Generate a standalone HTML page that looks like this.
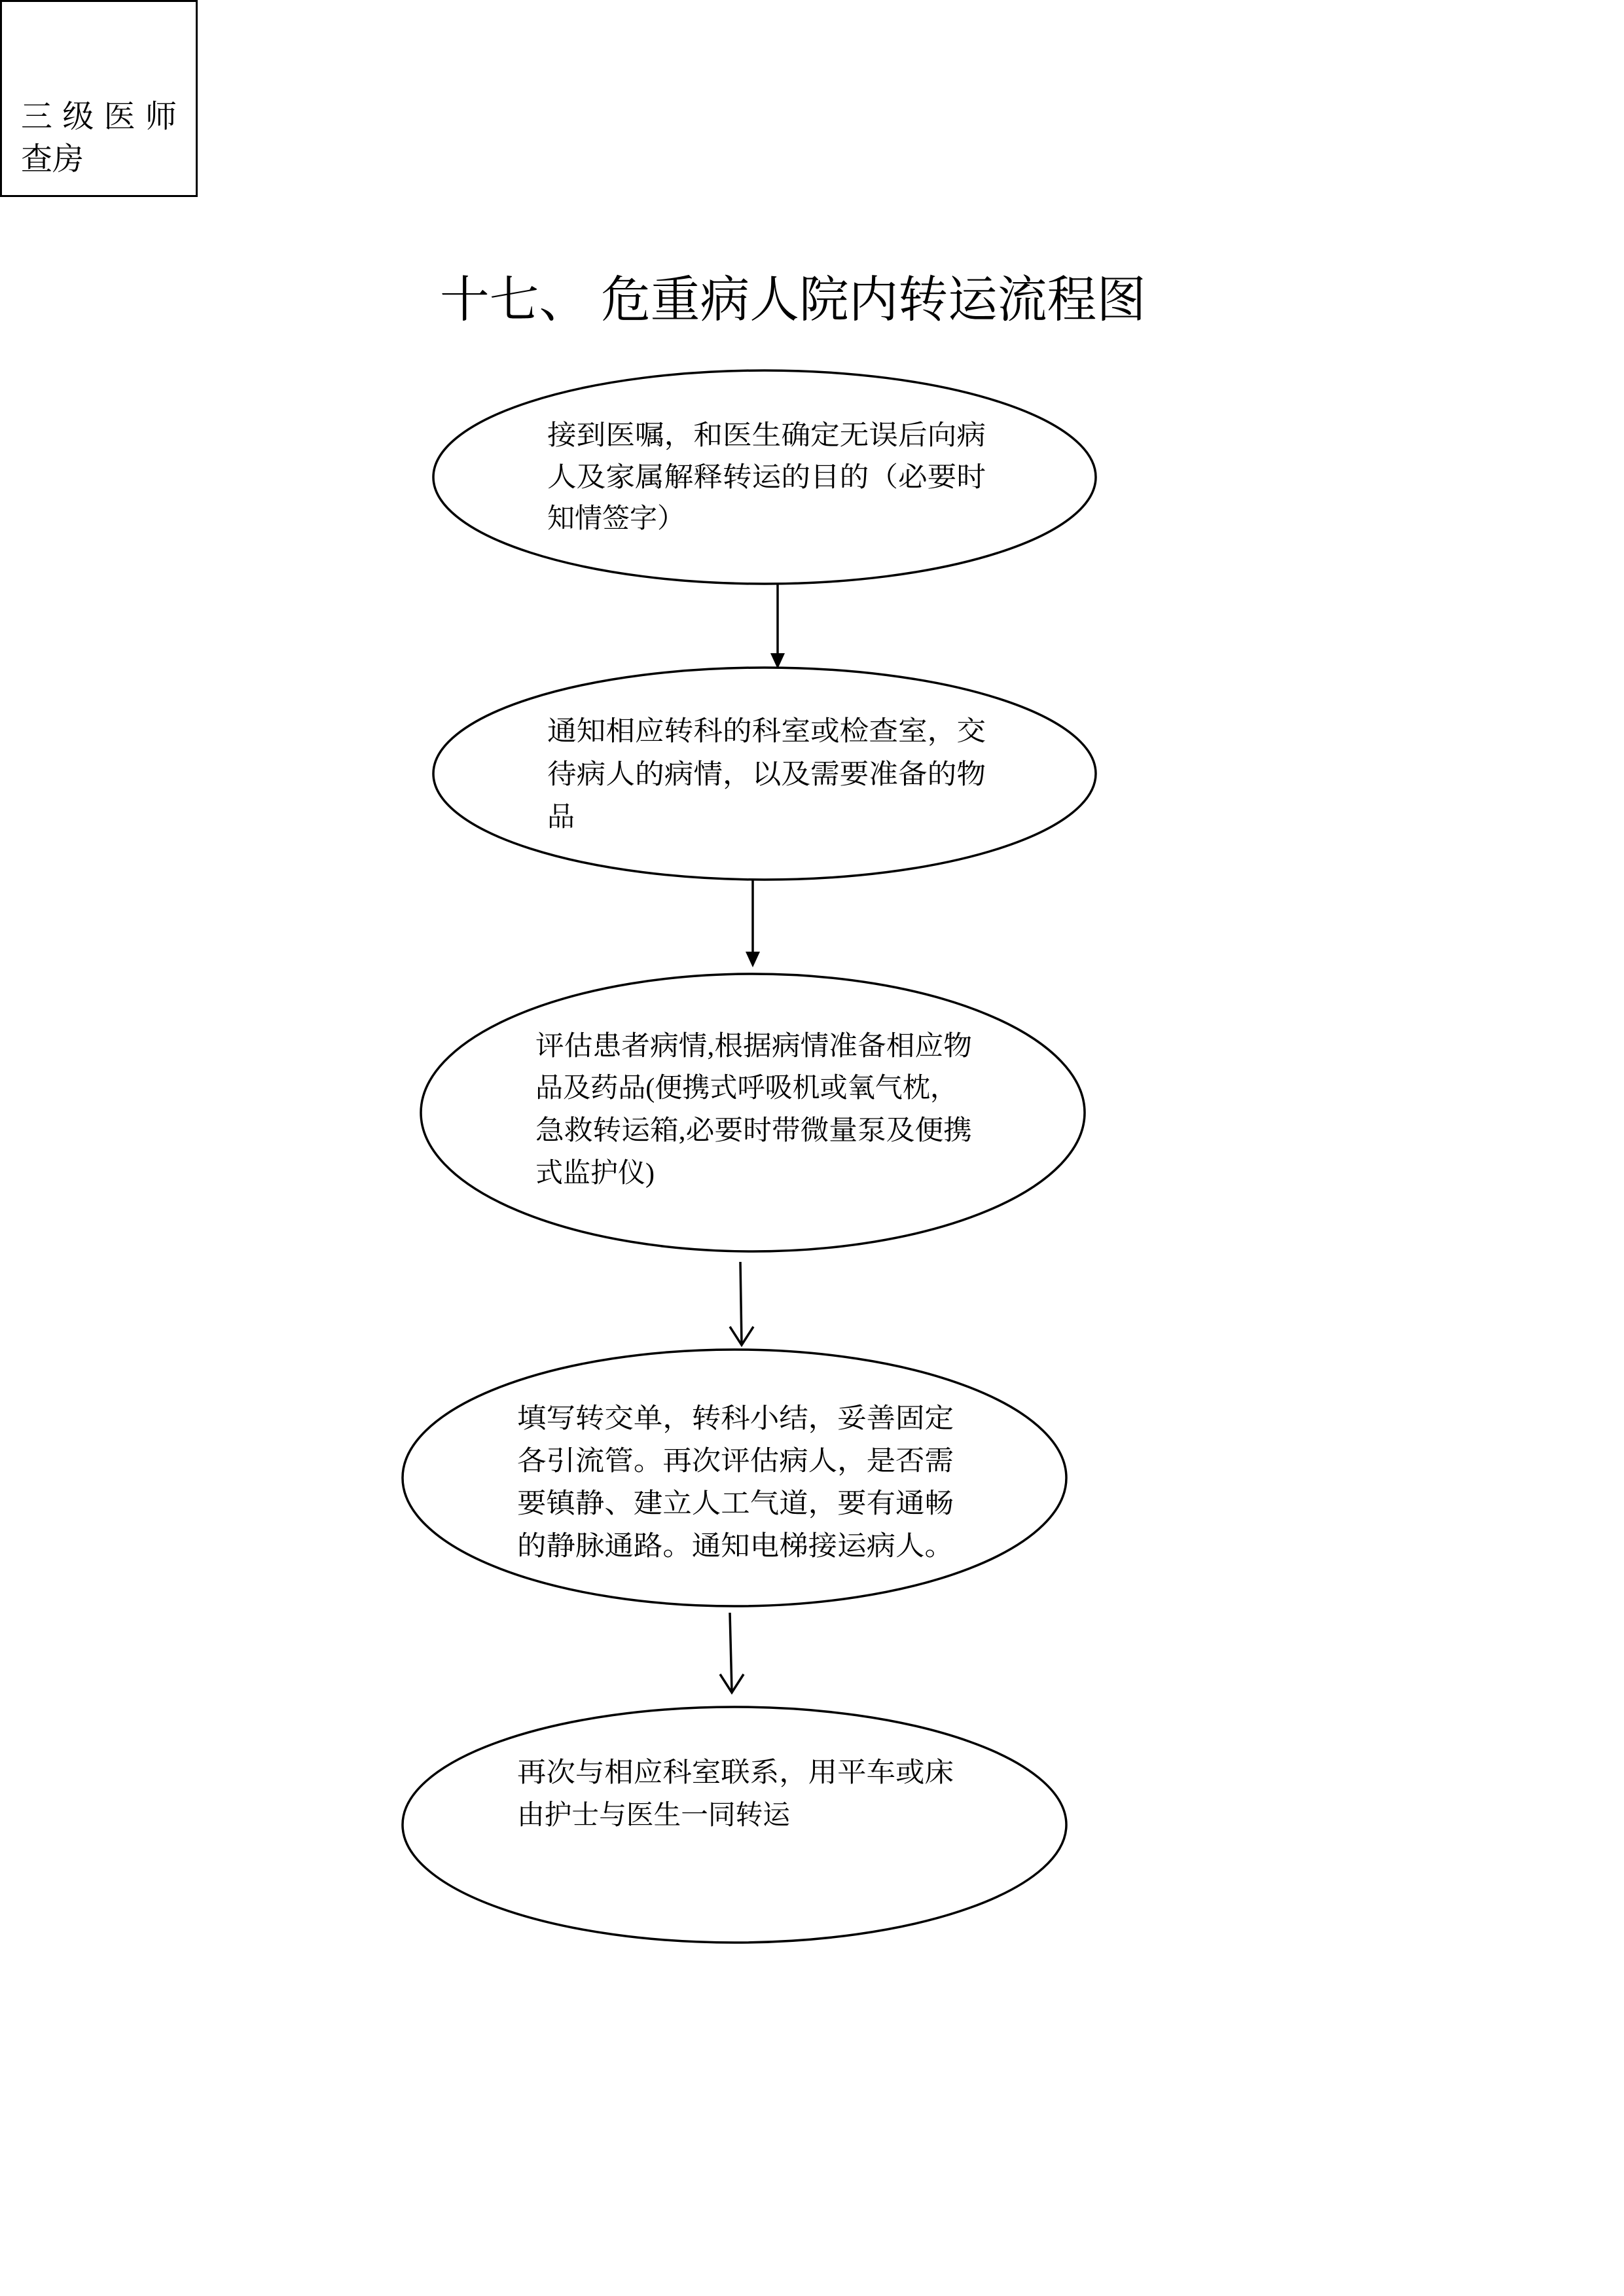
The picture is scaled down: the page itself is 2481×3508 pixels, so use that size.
<!DOCTYPE html>
<html><head><meta charset="utf-8"><style>
html,body{margin:0;padding:0;background:#fff;}
svg{display:block;}
text{font-family:"Liberation Serif","Noto Serif CJK SC",serif;fill:#000;}
</style></head><body>
<svg width="2481" height="3508" viewBox="0 0 2481 3508" xmlns="http://www.w3.org/2000/svg">
<rect x="1.5" y="1.5" width="299" height="298" fill="none" stroke="#000" stroke-width="3"/>
<text x="32" y="194" font-size="48" textLength="238" lengthAdjust="spacing">三级医师</text>
<text x="32" y="259" font-size="48">查房</text>

<text x="672" y="484" font-size="76" textLength="1079" lengthAdjust="spacingAndGlyphs">十七、 危重病人院内转运流程图</text>

<g fill="none" stroke="#000" stroke-width="3.5">
<ellipse cx="1168" cy="729" rx="506" ry="163"/>
<ellipse cx="1168" cy="1182" rx="506" ry="162"/>
<ellipse cx="1150" cy="1700" rx="507" ry="212"/>
<ellipse cx="1122" cy="2258" rx="507" ry="196"/>
<ellipse cx="1122" cy="2788" rx="507" ry="180"/>
<line x1="1188" y1="893" x2="1188" y2="1000"/>
<line x1="1150" y1="1344" x2="1150" y2="1458"/>
<line x1="1131" y1="1928" x2="1133" y2="2053"/>
<polyline points="1115,2027 1133,2055 1151,2027"/>
<line x1="1115" y1="2464" x2="1118" y2="2584"/>
<polyline points="1100,2558 1118,2586 1136,2558"/>
</g>
<polygon points="1177,998 1199,998 1188,1022" fill="#000"/>
<polygon points="1139,1454 1161,1454 1150,1478" fill="#000"/>

<g font-size="42">
<text x="836" y="679" textLength="670" lengthAdjust="spacingAndGlyphs">接到医嘱，和医生确定无误后向病</text>
<text x="836" y="743" textLength="670" lengthAdjust="spacingAndGlyphs">人及家属解释转运的目的（必要时</text>
<text x="836" y="806">知情签字）</text>

<text x="836" y="1131" textLength="670" lengthAdjust="spacingAndGlyphs">通知相应转科的科室或检查室，交</text>
<text x="836" y="1197" textLength="670" lengthAdjust="spacingAndGlyphs">待病人的病情，以及需要准备的物</text>
<text x="836" y="1262">品</text>

<text x="818" y="1612" textLength="667" lengthAdjust="spacingAndGlyphs">评估患者病情,根据病情准备相应物</text>
<text x="818" y="1676" textLength="645" lengthAdjust="spacingAndGlyphs">品及药品(便携式呼吸机或氧气枕，</text>
<text x="818" y="1741" textLength="667" lengthAdjust="spacingAndGlyphs">急救转运箱,必要时带微量泵及便携</text>
<text x="818" y="1806">式监护仪)</text>

<text x="790" y="2181" textLength="667" lengthAdjust="spacingAndGlyphs">填写转交单，转科小结，妥善固定</text>
<text x="790" y="2246" textLength="667" lengthAdjust="spacingAndGlyphs">各引流管。再次评估病人，是否需</text>
<text x="790" y="2311" textLength="667" lengthAdjust="spacingAndGlyphs">要镇静、建立人工气道，要有通畅</text>
<text x="790" y="2376" textLength="667" lengthAdjust="spacingAndGlyphs">的静脉通路。通知电梯接运病人。</text>

<text x="790" y="2722" textLength="667" lengthAdjust="spacingAndGlyphs">再次与相应科室联系，用平车或床</text>
<text x="790" y="2787" textLength="417" lengthAdjust="spacingAndGlyphs">由护士与医生一同转运</text>
</g>
</svg>
</body></html>
